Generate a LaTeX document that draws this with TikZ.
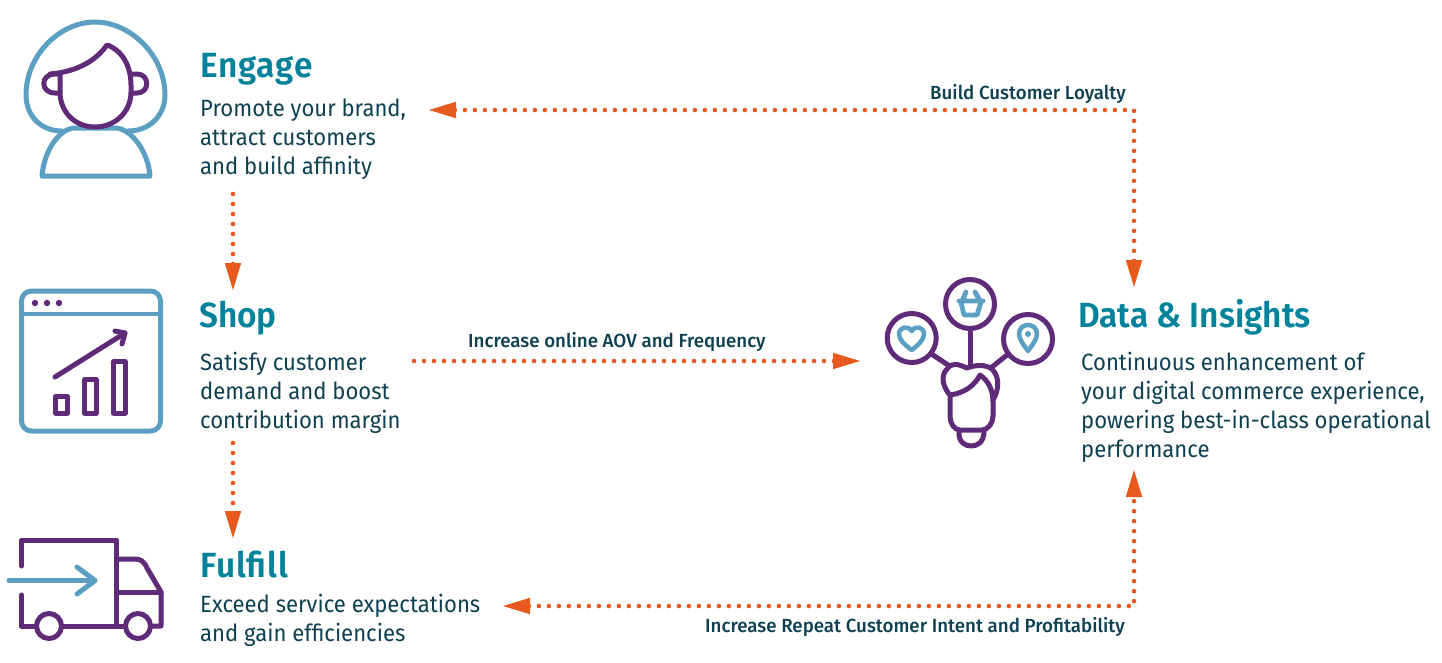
\documentclass[tikz,border=0pt]{standalone}
\usepackage{fontspec}
\setmainfont{Fira Sans}
\newfontfamily\bodyfont[FakeStretch=0.94]{Fira Sans}
\newfontfamily\medfont[FakeStretch=0.985]{Fira Sans Medium}
\newfontfamily\headfont[FakeStretch=0.955]{Fira Sans SemiBold}
\newfontfamily\headwide[FakeStretch=0.955,LetterSpace=2.5]{Fira Sans SemiBold}
\usetikzlibrary{arrows.meta}
\definecolor{purp}{HTML}{5F2A78}
\definecolor{blu}{HTML}{5B9FC2}
\definecolor{teal2}{HTML}{00829B}
\definecolor{ink}{HTML}{0D4050}
\definecolor{orng}{HTML}{E8591D}
\tikzset{
  x=1pt,y=-1pt,
  title/.style={anchor=base west,inner sep=0pt,text=teal2,font=\headfont\fontsize{35}{35}\selectfont},
  titlewide/.style={title,font=\headwide\fontsize{35}{35}\selectfont},
  body/.style={anchor=north west,inner sep=0pt,text=ink,align=left,font=\bodyfont\fontsize{23.5}{29}\selectfont},
  flowlabel/.style={anchor=base west,inner sep=0pt,text=ink,font=\medfont\fontsize{19}{19}\selectfont},
  flow/.style={orng,line width=4.6pt,line cap=round,dash pattern=on 0pt off 10pt,
    arrows={-{Triangle[length=28pt,width=15pt,line cap=butt]}}},
  flowboth/.style={flow,arrows={{Triangle[length=28pt,width=15pt,line cap=butt]}-{Triangle[length=28pt,width=15pt,line cap=butt]}}},
  iconb/.style={blu,line width=5pt,line cap=round,line join=round},
  iconp/.style={purp,line width=5pt,line cap=round,line join=round},
}
\begin{document}
\begin{tikzpicture}
\useasboundingbox (0,0) rectangle (1442,662);
% titles
\node[titlewide] (tEngage) at (200,77) {Engage};
\node[title] (tShop) at (199,327) {Shop};
\node[titlewide] (tFulfill) at (200,577) {Fulfill};
\node[title] (tData) at (1078,327) {Data \& Insights};
% bodies
\node[body] (bEngage) at (200,99) {Promote your brand,\\attract customers\\and build affinity};
\node[body] (bShop) at (200,352) {Satisfy customer\\demand and boost\\contribution margin};
\node[body] (bFulfill) at (200,594) {Exceed service expectations\\and gain efficiencies};
\node[body] (bData) at (1081,352) {Continuous enhancement of\\your digital commerce experience,\\powering best-in-class operational\\performance};
% labels
\node[flowlabel] (lLoyal) at (930,99) {Build Customer Loyalty};
\node[flowlabel] (lAov) at (468,347) {Increase online AOV and Frequency};
\node[flowlabel] (lRepeat) at (705,632) {Increase Repeat Customer Intent and Profitability};
% connector ends
\coordinate (eTop) at (428,110);
\coordinate (cTop) at (1134,110);
\coordinate (dTop) at (1134,288);
\coordinate (eDown) at (233,194);
\coordinate (sIn) at (233,291);
\coordinate (sDown) at (233,443);
\coordinate (fIn) at (233,539);
\coordinate (sOut) at (414,361);
\coordinate (dIn) at (861,361);
\coordinate (fBack) at (502,606);
\coordinate (cBot) at (1134,606);
\coordinate (dBot) at (1134,469);
\draw[flowboth] (eTop) -- (cTop) -- (dTop);
\draw[flow] (eDown) -- (sIn);
\draw[flow] (sDown) -- (fIn);
\draw[flow] (sOut) -- (dIn);
\draw[flowboth] (fBack) -- (cBot) -- (dBot);
% person icon
\draw[iconb] (62,131) .. controls (40,131) and (26,115) .. (26,95)
  .. controls (26,55) and (60,22) .. (95,22)
  .. controls (130,22) and (165,55) .. (165,95)
  .. controls (165,115) and (150,131) .. (128,131);
\draw[iconb] (42,176) -- (150,176) .. controls (148,150) and (130,128) .. (115,128)
  -- (75,128) .. controls (60,128) and (44,150) .. (42,176) -- cycle;
\draw[iconp] (50,74) .. controls (75,72) and (95,62) .. (107,45)
  .. controls (122,50) and (131,66) .. (131,85) -- (131,92)
  .. controls (131,112) and (115,127) .. (95,127)
  .. controls (75,127) and (60,112) .. (60,92) -- (60,74);
\draw[iconp] (60,74) -- (55,74) .. controls (40,74) and (40,93) .. (55,93) -- (60,93);
\draw[iconp] (133,74) -- (137,74) .. controls (150,74) and (150,93) .. (137,93) -- (133,93);
% shop icon
\draw[iconb,rounded corners=10pt] (21.5,291) rectangle (160.5,431);
\draw[blu,line width=4pt] (21.5,314) -- (160.5,314);
\fill[purp] (35,303) circle (3.2pt) (47,303) circle (3.2pt) (59,303) circle (3.2pt);
\draw[iconp] (55,377) -- (125,333);
\draw[iconp] (115,331) -- (125,333) -- (122,344);
\draw[iconp] (55.5,396.5) rectangle (67.5,413);
\draw[iconp] (84.5,379.5) rectangle (96,413);
\draw[iconp] (113.5,361.5) rectangle (125,413);
% truck icon
\draw[iconp] (21.5,566) -- (21.5,540) -- (116.5,540) -- (116.5,626);
\draw[iconp] (21.5,595) -- (21.5,626) -- (36,626);
\draw[iconp] (49,626) circle (12.5pt);
\draw[iconp] (61.5,626) -- (125.5,626);
\draw[iconp] (138,626) circle (12.5pt);
\draw[iconp] (150.5,626) -- (161,626) -- (161,592) -- (147,568)
  .. controls (144,561) and (140,559) .. (135,559) -- (116.5,559);
\draw[iconp] (116.5,592) -- (161,592);
\draw[iconb] (9,580.5) -- (95,580.5);
\draw[iconb] (77,567) -- (95,580.5) -- (77,594);
% data icon
\draw[iconp] (970,304) circle (24.5pt);
\draw[iconp] (911.7,338) circle (24.5pt);
\draw[iconp] (1028,339) circle (24.5pt);
\draw[iconp] (970,332) -- (970,365);
\draw[iconp] (933,355) -- (948,365);
\draw[iconp] (1007,355) -- (992,367);
\draw[iconp] (949,394) .. controls (942,385) and (941,375) .. (947,369)
  .. controls (952,362) and (958,364) .. (967,368)
  .. controls (975,365) and (985,364) .. (992,369)
  .. controls (1000,377) and (999,390) .. (993,400);
\draw[iconp] (950,395) .. controls (965,393) and (975,385) .. (980,375)
  .. controls (990,382) and (993,392) .. (993,402) -- (993,416)
  .. controls (993,423) and (988,430) .. (982,430) -- (960,430)
  .. controls (954,430) and (950,423) .. (950,416) -- (950,395);
\draw[iconp] (959,431) .. controls (958,442) and (965,446) .. (971,446)
  .. controls (978,446) and (984,442) .. (984,431);
% basket
\draw[blu,line width=4.8pt,line cap=round,line join=round]
  (959,301) -- (983,301) (963,299) -- (966,292) (979,299) -- (975,292)
  (961,302) -- (964,315) -- (977,315) -- (981,302);
% heart
\draw[blu,line width=4.5pt,line join=round] (911.7,350)
  .. controls (905,345) and (899,340) .. (899,334)
  .. controls (899,327) and (908,325) .. (911.7,331)
  .. controls (915,325) and (924,327) .. (924,334)
  .. controls (924,340) and (918,345) .. (911.7,350) -- cycle;
% pin
\draw[blu,line width=4.5pt,line join=round] (1028,351)
  .. controls (1023,344) and (1019,339) .. (1019,334)
  .. controls (1019,322) and (1037,322) .. (1037,334)
  .. controls (1037,339) and (1033,344) .. (1028,351) -- cycle;
\fill[blu] (1028,334) circle (3pt);
\end{tikzpicture}
\end{document}
